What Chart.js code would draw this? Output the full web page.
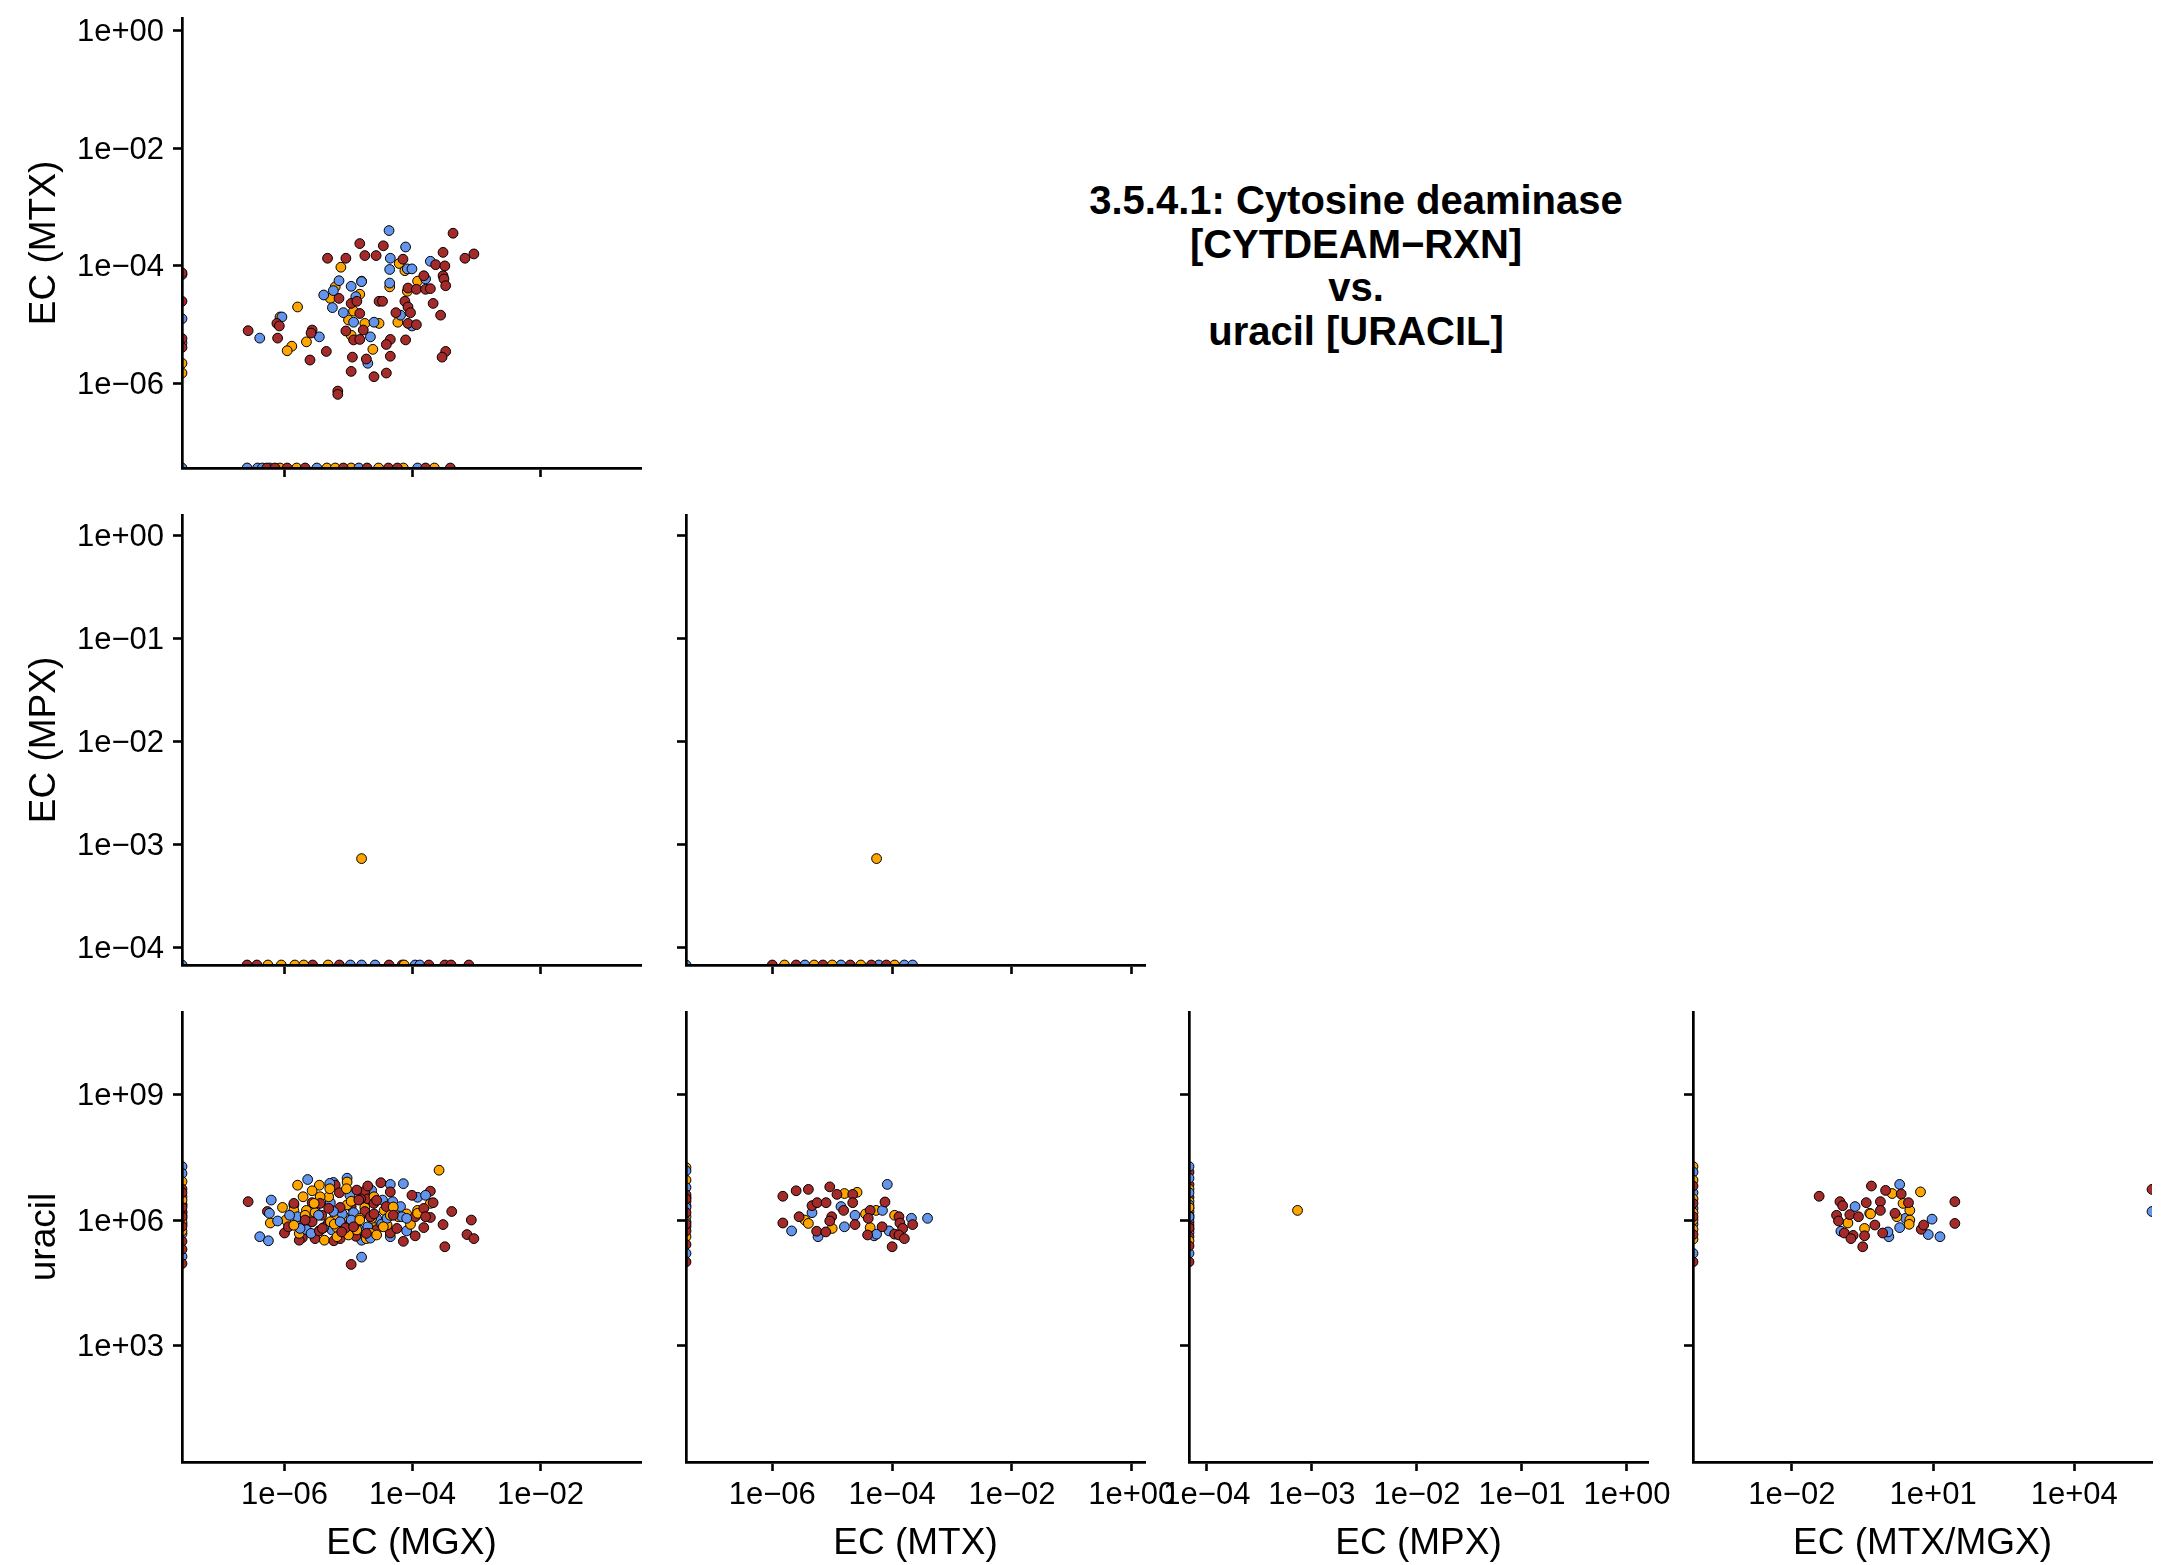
<!DOCTYPE html>
<html>
<head>
<meta charset="utf-8">
<title>3.5.4.1: Cytosine deaminase vs. uracil</title>
<script src="https://cdn.jsdelivr.net/npm/chart.js@4.4.1/dist/chart.umd.min.js"></script>
<style>
    html, body { margin: 0; padding: 0; background: #fff; overflow: hidden; }
    #wrap { position: relative; width: 2161px; height: 1565px; overflow: hidden; }
    #wrap canvas { position: absolute; }
    #title {
        position: absolute; left: 956px; top: 179px; width: 800px;
        text-align: center; font: bold 40px "Liberation Sans", Arial, sans-serif;
        line-height: 43.5px; color: #000;
    }
</style>
</head>
<body>
<div id="wrap">
    <div id="title">3.5.4.1: Cytosine deaminase<br>[CYTDEAM−RXN]<br>vs.<br>uracil [URACIL]</div>
</div>
<script>
// Scatter-plot matrix: EC abundance vs. uracil
// 0 on a log axis is drawn on the panel edge, Infinity on the far edge (like ggplot)

const groupColors = ['#A52A2A', '#FFA500', '#6495ED'];   // red, orange, blue

// axis limits, ticks and labels
const mgxRange = [2.5e-8, 0.372];
const mgxTicks = [1e-6, 1e-4, 1e-2];
const mgxTickLabels = ['1e−06', '1e−04', '1e−02'];

const mtxRange = [3.63e-8, 1.66];
const mtxTicks = [1e-6, 1e-4, 1e-2, 1];
const mtxTickLabels = ['1e−06', '1e−04', '1e−02', '1e+00'];

const mpxRange = [6.76e-5, 1.585];
const mpxTicks = [1e-4, 1e-3, 1e-2, 1e-1, 1];
const mpxTickLabels = ['1e−04', '1e−03', '1e−02', '1e−01', '1e+00'];

const ratioRange = [7.94e-5, 4.47e5];
const ratioTicks = [1e-2, 1e1, 1e4];
const ratioTickLabels = ['1e−02', '1e+01', '1e+04'];

const uracilRange = [1.66, 9.33e10];
const uracilTicks = [1e3, 1e6, 1e9];
const uracilTickLabels = ['1e+03', '1e+06', '1e+09'];

// ---- EC (MGX) vs EC (MTX) ----
const mgxMtxRed = [[4.3e-4,3.6e-4],[1.5e-5,2.4e-4],[3.5e-5,2.2e-4],[4.7e-6,1.35e-4],[9.1e-6,1.35e-4],[1.8e-5,1.5e-4],
    [2.7e-5,1.5e-4],[7.1e-5,1.3e-4],[3.0e-4,1.7e-4],[6.6e-4,1.35e-4],[9.1e-4,1.6e-4],[2.3e-4,1.05e-4],[3.2e-4,1.0e-4],
    [1.5e-4,6.8e-5],[3.0e-4,6.8e-5],[3.1e-4,6.0e-5],[3.3e-4,4.6e-5],[8.5e-5,4.2e-5],[1.15e-4,4.0e-5],[1.6e-4,4.0e-5],
    [1.9e-4,4.1e-5],[7.1e-6,2.8e-5],[1.1e-5,2.3e-5],[1.35e-5,2.5e-5],[3.0e-5,2.5e-5],[3.4e-5,2.5e-5],[7.6e-5,2.5e-5],
    [8.5e-5,2.0e-5],[2.1e-4,2.3e-5],[1.5e-5,1.55e-5],[5.5e-5,1.6e-5],[9.3e-5,1.6e-5],[2.75e-4,1.45e-5],[7.6e-7,1.05e-5],
    [8.3e-7,9.5e-6],[8.5e-5,1.05e-5],[1.15e-4,1.0e-5],[2.7e-7,7.9e-6],[7.8e-7,5.9e-6],[2.7e-6,8.1e-6],[2.6e-6,7.2e-6],
    [9.1e-6,7.8e-6],[1.7e-5,8.1e-6],[1.2e-5,5.5e-6],[1.5e-5,5.6e-6],[4.5e-5,5.6e-6],[3.9e-5,4.6e-6],[7.8e-5,5.5e-6],
    [4.5e-6,3.5e-6],[2.5e-6,2.5e-6],[1.15e-5,2.8e-6],[1.9e-5,2.6e-6],[4.5e-5,2.9e-6],[3.3e-4,3.5e-6],[2.9e-4,2.8e-6],
    [1.1e-5,1.6e-6],[3.9e-5,1.5e-6],[2.5e-5,1.3e-6],[6.8e-6,7.4e-7],[6.8e-6,6.5e-7],
    [0,7.6e-5],[0,2.5e-5],[0,5.8e-6],[0,4.1e-6],
    [5.3e-7,0],[7.1e-7,0],[1.1e-6,0],[2.1e-6,0],[8.3e-6,0],[1.95e-5,0],[4.2e-5,0],[5.8e-5,0],[1.6e-4,0],[3.9e-4,0]];
const mgxMtxOrange = [[6.2e-5,1.1e-4],[7.6e-6,9.5e-5],[7.6e-5,8.3e-5],[1.2e-4,5.5e-5],[1.6e-5,5.5e-5],[4.4e-5,4.4e-5],
    [6.2e-6,4.4e-5],[8.3e-5,3.7e-5],[5.2e-6,2.8e-5],[1.5e-5,3.3e-5],[1.6e-6,2.0e-5],[1.2e-5,1.7e-5],[8.5e-7,1.35e-5],
    [1.0e-5,1.2e-5],[1.8e-5,1.05e-5],[3.0e-5,1.05e-5],[5.9e-5,1.1e-5],[1.1e-5,6.6e-6],[2.2e-6,5.1e-6],[1.3e-6,4.3e-6],
    [1.1e-6,3.6e-6],[2.4e-5,3.8e-6],
    [0,2.2e-6],[0,1.5e-6],
    [8.5e-7,0],[1.55e-6,0],[4.6e-6,0],[6.2e-6,0],[1.1e-5,0],[2.95e-5,0],[7.2e-5,0],[2.2e-4,0]];
const mgxMtxBlue = [[4.3e-5,4.0e-4],[7.8e-5,2.1e-4],[4.5e-5,1.35e-4],[1.9e-4,1.2e-4],[4.4e-5,8.7e-5],[8.3e-5,8.9e-5],
    [9.8e-5,8.9e-5],[1.6e-4,6.0e-5],[7.1e-6,5.6e-5],[1.6e-5,5.4e-5],[1.1e-5,4.5e-5],[4.4e-5,5.1e-5],[5.8e-6,3.8e-5],
    [4.1e-6,3.2e-5],[1.3e-5,3.0e-5],[5.6e-6,1.95e-5],[8.3e-6,1.6e-5],[6.5e-5,1.45e-5],[9.1e-7,1.35e-5],[1.2e-5,1.1e-5],
    [2.5e-5,1.1e-5],[9.8e-5,9.5e-6],[4.1e-7,5.9e-6],[3.5e-6,6.2e-6],[2.2e-5,6.2e-6],[2.0e-5,2.2e-6],
    [0,7.1e-5],[0,1.26e-5],[0,4.9e-6],[0,0],
    [2.6e-7,0],[3.8e-7,0],[4.5e-7,0],[5.9e-7,0],[3.2e-6,0],[1.45e-5,0],[1.2e-4,0]];

// ---- EC (MGX) vs EC (MPX) ----
const mgxMpxRed = [[2.6e-7,0],[3.7e-7,0],[2.75e-6,0],[7.2e-6,0],[4.3e-5,0],[6.9e-5,0],[1.8e-4,0],[3.2e-4,0],[4.0e-4,0],[7.6e-4,0]];
const mgxMpxOrange = [[5.5e-7,0],[8.9e-7,0],[1.45e-6,0],[2.0e-6,0],[4.8e-6,0],[7.4e-5,0],[1.6e-5,7.3e-4]];
const mgxMpxBlue = [[1.07e-5,0],[1.6e-5,0],[2.6e-5,0],[1.1e-4,0],[1.3e-4,0],[0,0]];

// ---- EC (MTX) vs EC (MPX) ----
const mtxMpxRed = [[1.0e-6,0],[2.5e-6,0],[7e-6,0],[2e-5,0],[4.5e-5,0],[8e-5,0]];
const mtxMpxOrange = [[1.6e-6,0],[5e-6,0],[1.0e-5,0],[3e-5,0],[1.1e-4,0],[5.5e-5,7.3e-4]];
const mtxMpxBlue = [[3.5e-6,0],[1.4e-5,0],[6e-5,0],[1.6e-4,0],[2.2e-4,0],[0,0]];

// ---- EC (MGX) vs uracil ----
const mgxUracilRed = [[2.7e-7,2.75e6],[5.4e-7,1.6e6],[1.0e-6,4.9e5],[1.4e-6,2.3e6],[1.9e-6,3.8e5],[1.7e-6,3.3e5],
    [2.7e-6,2.6e6],[3.0e-6,3.6e5],[3.8e-6,1.3e6],[6.2e-6,6.8e6],[4.8e-6,8.3e5],[5.9e-6,3.2e5],[7.4e-6,3.6e5],
    [7.2e-6,4.5e6],[1.1e-5,2.1e6],[9.8e-6,1.0e6],[1.35e-5,9.1e5],[1.3e-5,4.1e5],[1.8e-5,4.9e6],[2.0e-5,6.5e6],
    [2.0e-5,3.2e6],[1.8e-5,1.6e6],[2.75e-5,5.9e5],[3.2e-5,7.8e6],[4.5e-5,4.7e6],[3.9e-5,2.1e6],[4.5e-5,4.9e5],
    [9.8e-5,3.9e6],[1.9e-4,4.9e6],[2.1e-4,2.6e6],[1.1e-4,1.2e6],[1.9e-4,1.15e6],[1.5e-4,6.6e5],[1.1e-4,4.2e5],
    [7.2e-5,3.1e5],[3.0e-4,7.8e5],[4.1e-4,1.6e6],[8.3e-4,1.0e6],[7.1e-4,4.5e5],[9.1e-4,3.6e5],[3.2e-4,2.3e5],
    [1.1e-5,8.7e4],[1.4e-6,2.5e6],[3.6e-6,2.5e6],[7.4e-6,2.0e6],[1.55e-5,3.2e6],[5.0e-5,1.3e6],[2.2e-5,1.2e6],
    [2.7e-6,9.1e5],[1.15e-6,6.9e5],[2.5e-5,1.4e6],[3.5e-6,5.5e5],[9e-6,6.5e5],
    [1.35e-5,5.2e6],[1.45e-5,3.0e6],[2.5e-5,2.5e6],[2.75e-5,2.95e6],[5.7e-5,6.3e5],[1.5e-4,1.9e6],[1.6e-4,1.2e6],
    [3.9e-6,6.3e5],[2.1e-6,1.0e6],[7.8e-6,5.2e5],[1.9e-5,4.8e5],[1.2e-5,6.9e5],[4.9e-6,1.9e6],
    [0,5.5e6],[0,1.6e6],[0,7.1e5],[0,3.1e5],[0,2.0e5],[0,9.1e4],[0,2.0e6],[0,1.2e6],[0,4.5e6]];
const mgxUracilOrange = [[6.0e-7,8.5e5],[9.3e-7,2.0e6],[1.05e-6,1.0e6],[1.6e-6,6.8e6],[3.5e-6,6.8e6],[1.95e-6,3.6e6],
    [1.7e-6,4.8e5],[2.7e-6,5.0e6],[2.8e-6,1.2e6],[3.5e-6,5.5e5],[4.2e-6,3.3e5],[4.9e-6,3.6e6],[6.2e-6,1.3e6],
    [6.6e-6,6.6e5],[9.5e-6,8.1e6],[9.5e-6,2.3e6],[8.5e-6,1.2e6],[1.0e-5,4.4e5],[1.9e-5,3.6e5],[1.8e-5,2.0e6],
    [2.4e-5,8.5e5],[3.6e-5,1.7e6],[1.9e-4,2.5e6],[6.0e-5,1.2e6],[8.1e-5,1.4e6],[1.2e-4,1.7e6],[9.3e-5,7.9e5],
    [2.6e-4,1.55e7],[1.4e-6,1.7e6],[5.2e-6,9.1e5],[2.5e-5,3.6e6],[4.0e-5,7.6e5],[1.35e-5,5.8e5],[2.2e-6,1.7e6],
    [3.0e-6,1.5e6],[1.5e-5,1.1e6],[6e-6,8e5],[2.2e-5,4.8e5],[1.1e-5,2.8e6],[4.5e-5,1.3e6],
    [3.6e-6,3.6e6],[5.1e-6,5.6e6],[9.3e-6,5.6e6],[2.3e-5,1.1e6],[3.5e-5,6.9e5],[5.0e-5,2.05e6],[1.2e-4,1.45e6],
    [2.9e-6,2.5e6],[2.1e-6,1.3e6],[1.4e-6,7.5e5],[6.6e-6,4.0e5],[2.75e-5,4.4e5],[1.5e-5,1.0e6],
    [0,8.3e6],[0,2.4e6],[0,1.1e6],[0,3.0e6],[0,9e5],[0,5.5e5],[0,1.5e6]];
const mgxUracilBlue = [[6.2e-7,3.0e6],[5.8e-7,1.45e6],[7.8e-7,9.5e5],[4.1e-7,4.0e5],[5.6e-7,3.2e5],[2.3e-6,9.3e6],
    [2.0e-6,7.9e5],[2.2e-6,5.9e5],[5.8e-6,7.9e6],[5.2e-6,2.6e6],[5.5e-6,5.8e5],[7.9e-6,7.1e5],[9.5e-6,1.0e7],
    [1.05e-5,3.9e6],[1.45e-5,5.9e5],[1.6e-5,3.3e5],[2.3e-5,5.1e6],[4.5e-5,7.1e6],[3.4e-5,3.0e6],[4.9e-5,2.75e6],
    [4.5e-5,4.0e5],[7.2e-5,7.4e6],[1.2e-4,3.5e6],[6.5e-5,2.1e6],[8.1e-5,5.5e5],[1.6e-5,1.3e5],[3.0e-6,1.7e6],
    [4.1e-6,6.6e5],[1.2e-5,1.5e6],[2.75e-5,1.1e6],[6.8e-5,1.2e6],[2.0e-5,6.9e5],[1.6e-6,1.2e6],[8e-6,1.4e6],
    [3.3e-5,8e5],[1.2e-6,1.3e6],
    [5.1e-6,7.5e6],[1.1e-5,1.0e6],[4e-5,1.1e6],[8.1e-5,1.1e6],[1.6e-4,3.9e6],[3.4e-6,1.3e6],[2.6e-6,4.8e5],
    [1.75e-6,6.3e5],[7.4e-6,9.1e5],[2.2e-5,3.7e5],[5.8e-6,1.6e6],
    [0,1.9e7],[0,1.3e7],[0,3.6e6],[0,4.7e5],[0,1.35e5],[0,8e5],[0,1.3e6],[0,2.2e6]];

// ---- EC (MTX) vs uracil ----
const mtxUracilRed = [[1.5e-6,3.7e6],[2.5e-6,5.0e6],[4.0e-6,5.4e6],[9.1e-6,6.2e6],[1.2e-5,4.1e6],[2.2e-5,4.1e6],
    [4.6e-6,2.2e6],[5.6e-6,2.6e6],[7.9e-6,2.6e6],[2.2e-5,2.6e6],[1.55e-5,1.7e6],[7.6e-5,2.7e6],[2.8e-6,1.2e6],
    [1.5e-6,8.5e5],[9.8e-6,1.2e6],[9.1e-6,9.5e5],[2.4e-5,7.8e5],[4.3e-5,1.7e6],[4.0e-5,1.1e6],[5.5e-6,5.4e5],
    [7.8e-6,5.2e5],[6.8e-5,6.9e5],[3.9e-5,4.4e5],[1.3e-4,1.2e6],[1.35e-4,8.5e5],[2.2e-4,7.8e5],[1.5e-4,6.3e5],
    [1.1e-4,4.6e5],[1.3e-4,4.4e5],[1.6e-4,3.6e5],[1.0e-4,2.3e5],
    [0,4e6],[0,1.5e6],[0,5.5e5],[0,2.6e5],[0,1.0e5],[0,3.2e6],[0,8e5]];
const mtxUracilOrange = [[1.6e-5,4.3e6],[2.6e-5,4.6e6],[3.5e-6,1.0e6],[4.0e-6,8.3e5],[3.6e-5,1.4e6],[5.4e-5,1.7e6],
    [1.0e-5,6.3e5],[4.3e-5,6.6e5],[1.1e-4,1.3e6],
    [0,1.8e7],[0,9e6],[0,2.8e6],[0,1.2e6],[0,7e5],[0,4e5],[0,2.2e6]];
const mtxUracilBlue = [[8.3e-5,7.1e6],[1.4e-5,2.1e6],[4.6e-6,1.5e6],[2.1e-6,5.5e5],[2.4e-5,1.3e6],[6.9e-5,1.7e6],
    [1.6e-5,6.9e5],[5.8e-6,4.0e5],[5.0e-5,4.2e5],[5.5e-5,4.6e5],[8.9e-5,5.5e5],[2.1e-4,1.1e6],[3.9e-4,1.1e6],
    [0,1.5e7],[0,6e6],[0,2e6],[0,9e5],[0,1.6e5],[0,3.5e6]];

// ---- EC (MPX) vs uracil ----
const mpxUracilRed = [[0,1.4e7],[0,7e6],[0,3.5e6],[0,1.9e6],[0,1.3e6],[0,7.5e5],[0,4e5],[0,2.4e5],[0,1.0e5],[0,6.5e5]];
const mpxUracilOrange = [[7.3e-4,1.7e6],[0,5.5e6],[0,2.8e6],[0,1.6e6],[0,1.1e6],[0,6e5],[0,3.2e5],[0,2e6]];
const mpxUracilBlue = [[0,1.9e7],[0,1.0e7],[0,4.5e6],[0,2.3e6],[0,9e5],[0,5e5],[0,1.6e5],[0,1.2e6]];

// ---- EC (MTX/MGX) vs uracil ----
const ratioUracilRed = [[3.8e-2,3.7e6],[0.49,6.5e6],[0.98,5.1e6],[2.1,4.2e6],[0.105,2.75e6],[0.12,2.2e6],[0.38,2.6e6],
    [0.76,2.75e6],[3.0,2.6e6],[29,2.75e6],[0.089,1.3e6],[0.098,9.5e5],[0.17,1.35e6],[0.26,1.2e6],[0.76,1.7e6],
    [1.55,1.45e6],[0.13,4.9e5],[0.2,4.3e5],[0.18,3.6e5],[0.35,4.2e5],[0.58,7.6e5],[0.85,4.9e5],[5.6,6.0e5],
    [6.3,7.6e5],[29,8.3e5],[0.32,2.3e5],[Infinity,5.4e6],
    [0,6.5e6],[0,2.5e6],[0,1.2e6],[0,4.5e5],[0,1.0e5]];
const ratioUracilOrange = [[1.35,4.3e6],[5.4,4.7e6],[2.3,2.5e6],[0.45,1.45e6],[0.47,1.4e6],[1.7,1.2e6],[3.2,1.7e6],
    [3.2,1.0e6],[0.155,8.5e5],[0.35,6.3e5],[3.1,7.9e5],
    [0,1.9e7],[0,9e6],[0,3.2e6],[0,1.5e6],[0,1.0e6],[0,6e5],[0,3.5e5]];
const ratioUracilBlue = [[1.95,7.1e6],[0.22,2.1e6],[2.6,1.1e6],[9.5,1.05e6],[0.11,5.4e5],[1.15,4.0e5],[1.1,5.2e5],
    [1.95,6.6e5],[7.9,4.5e5],[14,4.0e5],[Infinity,1.6e6],
    [0,1.4e7],[0,4.5e6],[0,1.9e6],[0,8e5],[0,1.6e5]];

// ---------------------------------------------------------------------------
const FONT = '"Liberation Sans", Arial, Helvetica, sans-serif';

const axes = {
    mgx:    { range: mgxRange,    ticks: mgxTicks,    labels: mgxTickLabels,    title: 'EC (MGX)' },
    mtx:    { range: mtxRange,    ticks: mtxTicks,    labels: mtxTickLabels,    title: 'EC (MTX)' },
    mpx:    { range: mpxRange,    ticks: mpxTicks,    labels: mpxTickLabels,    title: 'EC (MPX)' },
    ratio:  { range: ratioRange,  ticks: ratioTicks,  labels: ratioTickLabels,  title: 'EC (MTX/MGX)' },
    uracil: { range: uracilRange, ticks: uracilTicks, labels: uracilTickLabels, title: 'uracil' }
};

const panels = [
    { row: 0, col: 0, x: 'mgx',   y: 'mtx',    groups: [mgxMtxRed, mgxMtxOrange, mgxMtxBlue] },
    { row: 1, col: 0, x: 'mgx',   y: 'mpx',    groups: [mgxMpxRed, mgxMpxOrange, mgxMpxBlue] },
    { row: 1, col: 1, x: 'mtx',   y: 'mpx',    groups: [mtxMpxRed, mtxMpxOrange, mtxMpxBlue] },
    { row: 2, col: 0, x: 'mgx',   y: 'uracil', groups: [mgxUracilRed, mgxUracilOrange, mgxUracilBlue] },
    { row: 2, col: 1, x: 'mtx',   y: 'uracil', groups: [mtxUracilRed, mtxUracilOrange, mtxUracilBlue] },
    { row: 2, col: 2, x: 'mpx',   y: 'uracil', groups: [mpxUracilRed, mpxUracilOrange, mpxUracilBlue] },
    { row: 2, col: 3, x: 'ratio', y: 'uracil', groups: [ratioUracilRed, ratioUracilOrange, ratioUracilBlue] }
];

// layout (px)
const colLeft = [182, 686, 1189, 1693];
const rowTop = [18, 515, 1012];
const panelW = 459, panelH = 450;
const yBox = 182, xBox = 106, padTop = 30, padRight = 60;

// zero -> low edge, Infinity -> high edge
function edge(v, range) {
    if (v === 0) return range[0];
    if (v === Infinity) return range[1];
    return v;
}

function buildPoints(groups, xr, yr) {
    const pts = [], cols = [];
    const n = Math.max(...groups.map(g => g.length));
    for (let i = 0; i < n; i++) {
        groups.forEach((g, k) => {
            if (i < g.length) {
                pts.push({ x: edge(g[i][0], xr), y: edge(g[i][1], yr) });
                cols.push(groupColors[k]);
            }
        });
    }
    return { pts, cols };
}

function scaleOptions(axis, pos, showLabels) {
    const left = pos === 'left';
    return {
        type: 'logarithmic',
        position: pos,
        min: axis.range[0],
        max: axis.range[1],
        afterBuildTicks: s => { s.ticks = axis.ticks.map(v => ({ value: v })); },
        afterFit: s => { if (left) s.width = yBox; else s.height = xBox; },
        grid: {
            display: true, drawOnChartArea: false, drawTicks: true,
            tickLength: 9, tickWidth: 2.6, tickColor: '#000', color: '#000'
        },
        border: { display: true, color: '#000', width: 2.7, z: 1 },
        ticks: {
            display: showLabels, autoSkip: false, maxRotation: 0, minRotation: 0,
            padding: left ? 9 : 6,
            labelOffset: left ? 2 : 0,
            color: '#000', font: { family: FONT, size: 31 },
            callback: (v, i) => axis.labels[i]
        },
        title: {
            display: showLabels, text: axis.title, color: '#000',
            font: { family: FONT, size: 37 },
            padding: left ? { top: 23, bottom: 0 } : { top: 0, bottom: 2 }
        }
    };
}

const wrap = document.getElementById('wrap');

panels.forEach(p => {
    const xa = axes[p.x], ya = axes[p.y];
    const canvas = document.createElement('canvas');
    canvas.width = yBox + panelW + padRight;
    canvas.height = padTop + panelH + xBox;
    canvas.style.left = (colLeft[p.col] - yBox) + 'px';
    canvas.style.top = (rowTop[p.row] - padTop) + 'px';
    wrap.appendChild(canvas);

    const { pts, cols } = buildPoints(p.groups, xa.range, ya.range);

    new Chart(canvas, {
        type: 'scatter',
        data: {
            datasets: [{
                data: pts,
                pointBackgroundColor: cols,
                pointBorderColor: '#000',
                pointBorderWidth: 1,
                pointRadius: 4.9,
                pointHoverRadius: 4.9,
                showLine: false,
                clip: 0
            }]
        },
        options: {
            responsive: false,
            animation: false,
            events: [],
            layout: { padding: { top: padTop, right: padRight, left: 0, bottom: 0 }, autoPadding: false },
            plugins: { legend: { display: false }, tooltip: { enabled: false } },
            scales: {
                x: scaleOptions(xa, 'bottom', p.row === 2),
                y: scaleOptions(ya, 'left', p.col === 0)
            }
        }
    });
});
</script>
</body>
</html>
